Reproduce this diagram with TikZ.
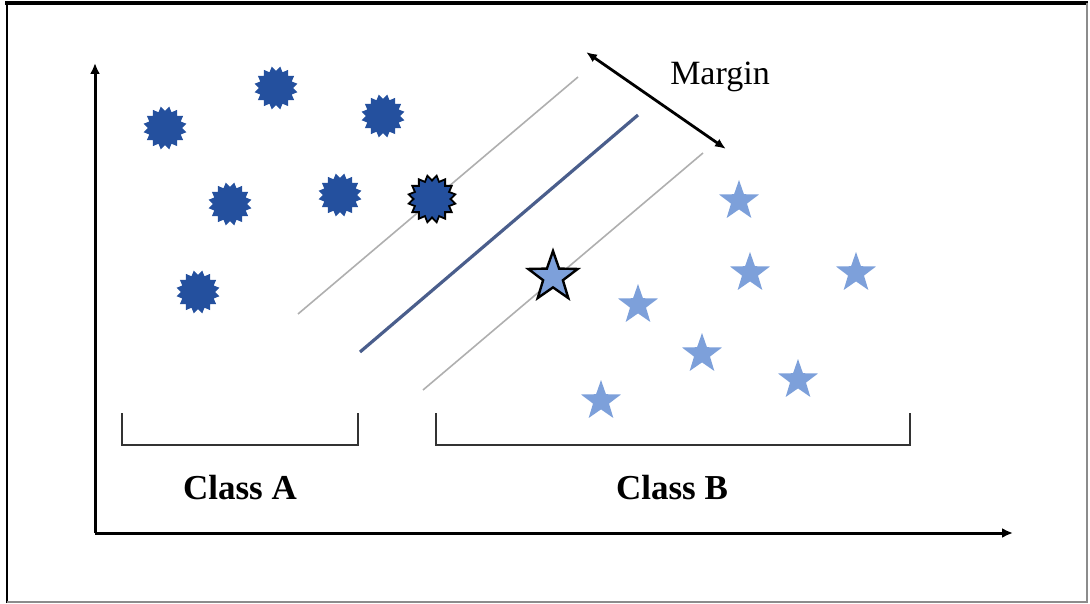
\documentclass[tikz,border=0pt]{standalone}
\usepackage{fontspec}
\setmainfont{Liberation Serif}
\usetikzlibrary{shapes.geometric,arrows.meta}
\definecolor{burstblue}{RGB}{36,80,158}
\definecolor{starblue}{RGB}{125,160,218}
\definecolor{lineblue}{RGB}{74,94,140}
\definecolor{margray}{RGB}{175,175,175}
\tikzset{
  burst/.style={star, star points=16, star point ratio=0.78, minimum size=34pt, inner sep=0pt, fill=burstblue},
  sv/.style={burst, draw=black, line width=1.8pt, minimum size=37pt},
  pics/fivestar/.style args={#1/#2}{code={
    \path[#1] plot[samples at={0,...,9}, variable=\k] (-90+36*\k: {#2*(1-0.6*mod(\k,2))}) -- cycle;
  }},
  lstarfill/.style={fill=starblue},
  svstarfill/.style={fill=starblue, draw=black, line width=2.4pt, line join=miter},
  axis/.style={line width=3pt, -{Latex[length=11pt,width=10pt]}},
  marginline/.style={line width=1.6pt, margray},
  hyper/.style={line width=3.2pt, lineblue},
  bracket/.style={line width=2.8pt, black!80},
  lbl/.style={font=\fontsize{35}{40}\selectfont\bfseries, inner sep=0pt},
}
\begin{document}
\begin{tikzpicture}[x=1pt,y=-1pt]
\useasboundingbox (0,0) rectangle (1090,604);
% frame
\draw[line width=4.5pt, black] (5,3) -- (1088,3);
\draw[line width=2.5pt, black] (7,3) -- (7,603);
\draw[line width=2pt, black!45] (1087,3) -- (1087,602);
\draw[line width=2pt, black!45] (7,602) -- (1088,602);
% axes
\coordinate (O) at (95,533);
\coordinate (ytip) at (95,63);
\coordinate (xtip) at (1013,533);
\draw[axis] (O) -- (ytip);
\draw[axis] (O) -- (xtip);
% margin and hyperplane lines
\coordinate (u1) at (298,314);
\coordinate (u2) at (578,77);
\coordinate (h1) at (360,352);
\coordinate (h2) at (638,115);
\coordinate (l1) at (423,390);
\coordinate (l2) at (703,153);
\draw[marginline] (u1) -- (u2);
\draw[marginline] (l1) -- (l2);
\draw[hyper] (h1) -- (h2);
% margin arrow
\coordinate (m1) at (586,52);
\coordinate (m2) at (726,149);
\draw[line width=2.8pt, {Latex[length=11pt,width=9pt]}-{Latex[length=11pt,width=9pt]}] (m1) -- (m2);
\node[font=\fontsize{34}{40}\selectfont, inner sep=0pt] (mlabel) at (720,77) {Margin};
% class A points
\node[burst] (a1) at (165,128) {};
\node[burst] (a2) at (276,88) {};
\node[burst] (a3) at (383,116) {};
\node[burst] (a4) at (230,204) {};
\node[burst] (a5) at (340,195) {};
\node[burst] (a7) at (198,292) {};
\node[sv] (a6) at (432,199) {};
% class B points
\coordinate (b1) at (739,201);
\coordinate (b2) at (750,273);
\coordinate (b3) at (856,273);
\coordinate (b4) at (638,305);
\coordinate (b5) at (702,354);
\coordinate (b6) at (798,380);
\coordinate (b7) at (601,401);
\coordinate (b8) at (553,277);
\foreach \p in {b1,b2,b3,b4,b5,b6,b7}{
  \pic at (\p) {fivestar={lstarfill}/21};
}
\pic at (b8) {fivestar={svstarfill}/26};
% brackets
\draw[bracket] (122,413) -- (122,445) -- (358,445) -- (358,413);
\draw[bracket] (436,413) -- (436,445) -- (910,445) -- (910,413);
\node[lbl] (ca) at (240,488) {Class A};
\node[lbl] (cb) at (672,488) {Class B};
\end{tikzpicture}
\end{document}
